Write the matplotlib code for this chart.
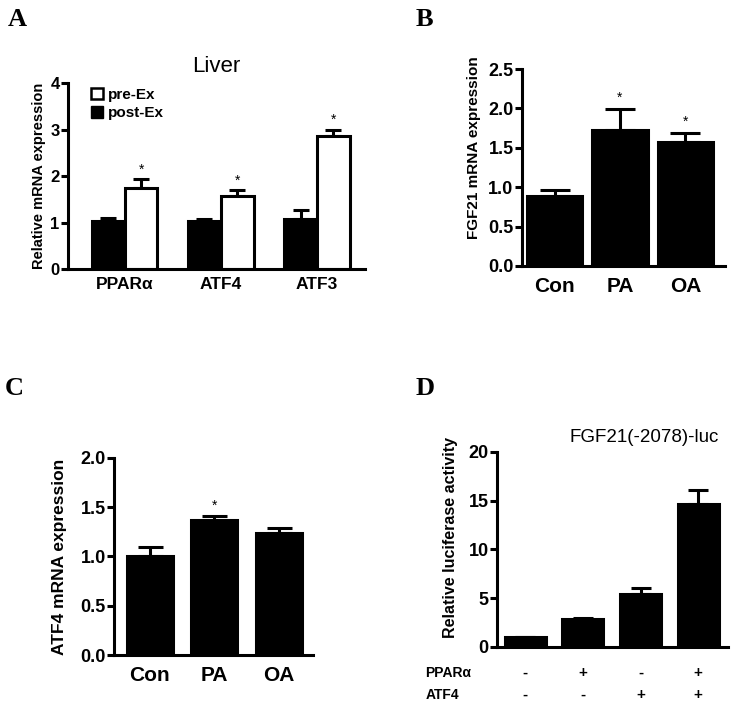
import matplotlib.pyplot as plt
from matplotlib.patches import Patch
import matplotlib.transforms as mtransforms
import numpy as np

plt.rcParams['font.family'] = ['Liberation Sans', 'DejaVu Sans']

# Panel A - liver
genes = ['PPAR\u03b1', 'ATF4', 'ATF3']
post_ex = [1.03, 1.03, 1.08]
post_ex_err = [0.07, 0.04, 0.19]
pre_ex = [1.75, 1.58, 2.87]
pre_ex_err = [0.18, 0.11, 0.13]

# Panel B - FGF21
treat = ['Con', 'PA', 'OA']
fgf21 = [0.89, 1.72, 1.57]
fgf21_err = [0.07, 0.27, 0.12]

# Panel C - ATF4
atf4 = [1.01, 1.37, 1.24]
atf4_err = [0.09, 0.04, 0.05]

# Panel D - luciferase
luc = [1.0, 2.9, 5.4, 14.7]
luc_err = [0.05, 0.1, 0.6, 1.4]
ppara_row = ['-', '+', '-', '+']
atf4_row = ['-', '-', '+', '+']

LW = 2.2


def style(ax, ylim, yticks, fs):
    ax.spines['top'].set_visible(False)
    ax.spines['right'].set_visible(False)
    ax.spines['left'].set_linewidth(LW)
    ax.spines['bottom'].set_linewidth(LW)
    ax.set_ylim(*ylim)
    ax.set_yticks(yticks)
    ax.tick_params(axis='y', direction='out', length=5, width=LW, labelsize=fs, pad=1)
    ax.tick_params(axis='x', length=0)
    for t in ax.get_yticklabels():
        t.set_fontweight('bold')


def up_err(ax, x, y, e, cap):
    ax.errorbar(x, y, yerr=[np.zeros(len(e)), e], fmt='none', ecolor='black',
                elinewidth=LW, capsize=cap, capthick=LW, zorder=1)


fig = plt.figure(figsize=(7.35, 7.05), dpi=100)

# ---------------- A
axA = fig.add_axes([0.0925, 0.6184, 0.4041, 0.2638])
xa = np.arange(len(genes))
w = 0.34
up_err(axA, xa - w / 2, post_ex, post_ex_err, 6)
up_err(axA, xa + w / 2, pre_ex, pre_ex_err, 6)
axA.bar(xa - w / 2, post_ex, w, color='black', edgecolor='black', linewidth=LW, zorder=2)
axA.bar(xa + w / 2, pre_ex, w, color='white', edgecolor='black', linewidth=LW, zorder=2)
for xi, v, e in zip(xa, pre_ex, pre_ex_err):
    axA.text(xi + w / 2, v + e + 0.05, '*', ha='center', va='bottom', fontsize=10)
axA.set_xlim(-0.59, 2.5)
style(axA, (0, 4), [0, 1, 2, 3, 4], 12)
axA.set_xticks(xa)
axA.set_xticklabels(genes, fontsize=12.5, fontweight='bold')
axA.tick_params(axis='x', pad=6)
axA.set_ylabel('Relative mRNA expression', fontsize=10.5, fontweight='bold', labelpad=3)
axA.set_title('Liver', fontsize=16, pad=8)
handles = [Patch(facecolor='white', edgecolor='black', linewidth=1.8, label='pre-Ex'),
           Patch(facecolor='black', edgecolor='black', label='post-Ex')]
axA.legend(handles=handles, loc='upper left', bbox_to_anchor=(0.03, 1.05), frameon=False,
           handlelength=0.8, handleheight=0.8, handletextpad=0.3, labelspacing=0.3,
           prop={'weight': 'bold', 'size': 11})

# ---------------- B
axB = fig.add_axes([0.710, 0.6227, 0.276, 0.2794])
xb = np.arange(len(treat))
up_err(axB, xb, fgf21, fgf21_err, 11)
axB.bar(xb, fgf21, 0.85, color='black', edgecolor='black', linewidth=LW, zorder=2)
for i in [1, 2]:
    axB.text(xb[i], fgf21[i] + fgf21_err[i] + 0.05, '*', ha='center', va='bottom', fontsize=10)
axB.set_xlim(-0.5, 2.6)
style(axB, (0, 2.5), [0, 0.5, 1.0, 1.5, 2.0, 2.5], 13)
axB.yaxis.set_major_formatter(plt.FormatStrFormatter('%.1f'))
axB.set_xticks(xb)
axB.set_xticklabels(treat, fontsize=15, fontweight='bold')
axB.tick_params(axis='x', pad=8)
axB.set_ylabel('FGF21 mRNA expression', fontsize=11, fontweight='bold', labelpad=4)
axB.yaxis.set_label_coords(-0.2, 0.6)

# ---------------- C
axC = fig.add_axes([0.1551, 0.0709, 0.2707, 0.2795])
up_err(axC, xb, atf4, atf4_err, 9)
axC.bar(xb, atf4, 0.71, color='black', edgecolor='black', linewidth=LW, zorder=2)
axC.text(xb[1], atf4[1] + atf4_err[1] + 0.03, '*', ha='center', va='bottom', fontsize=10)
axC.set_xlim(-0.55, 2.52)
style(axC, (0, 2.0), [0, 0.5, 1.0, 1.5, 2.0], 13)
axC.yaxis.set_major_formatter(plt.FormatStrFormatter('%.1f'))
axC.set_xticks(xb)
axC.set_xticklabels(treat, fontsize=15, fontweight='bold')
axC.tick_params(axis='x', pad=8)
axC.set_ylabel('ATF4 mRNA expression', fontsize=12.5, fontweight='bold', labelpad=4)
axC.yaxis.set_label_coords(-0.235, 0.5)

# ---------------- D
axD = fig.add_axes([0.676, 0.0823, 0.314, 0.2766])
xd = np.arange(len(luc))
up_err(axD, xd, luc, luc_err, 7)
axD.bar(xd, luc, 0.71, color='black', edgecolor='black', linewidth=LW, zorder=2)
axD.set_xlim(-0.49, 3.51)
style(axD, (0, 20), [0, 5, 10, 15, 20], 13)
axD.set_xticks([])
axD.set_ylabel('Relative luciferase activity', fontsize=11.5, fontweight='bold', labelpad=4)
axD.yaxis.set_label_coords(-0.17, 0.56)
axD.text(0.64, 1.03, 'FGF21(-2078)-luc', transform=axD.transAxes, ha='center',
         va='bottom', fontsize=13.5)
trans = mtransforms.blended_transform_factory(axD.transData, axD.transAxes)
for i in xd:
    axD.text(i, -0.133, ppara_row[i], transform=trans, ha='center', va='center',
             fontsize=11, fontweight='bold')
    axD.text(i, -0.246, atf4_row[i], transform=trans, ha='center', va='center',
             fontsize=11, fontweight='bold')
axD.text(-0.31, -0.133, 'PPAR\u03b1', transform=axD.transAxes, ha='left', va='center',
         fontsize=10, fontweight='bold')
axD.text(-0.31, -0.246, 'ATF4', transform=axD.transAxes, ha='left', va='center',
         fontsize=10, fontweight='bold')

# panel letters
for lab, x, y in [('A', 0.010, 0.988), ('B', 0.565, 0.988), ('C', 0.006, 0.465), ('D', 0.565, 0.465)]:
    fig.text(x, y, lab, fontsize=19, fontweight='bold', family='Liberation Serif',
             ha='left', va='top')

fig.savefig('out.png', dpi=100)
